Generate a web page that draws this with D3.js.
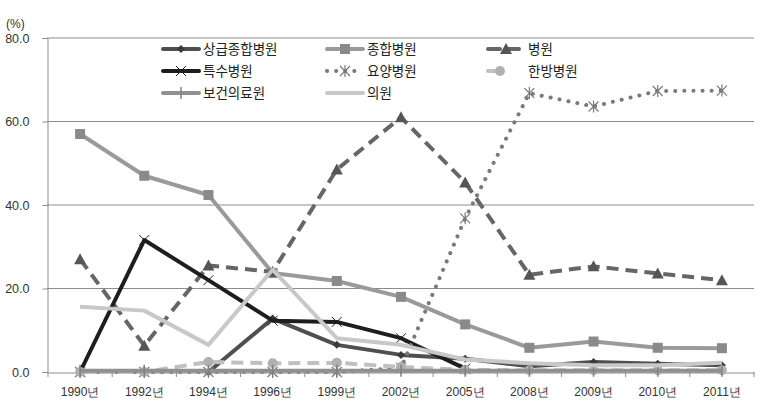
<!DOCTYPE html>
<html><head><meta charset="utf-8">
<script src="https://cdn.jsdelivr.net/npm/d3@7"></script>
<style>body{margin:0;background:#fff;}svg{display:block;font-family:"Noto Sans CJK KR","Noto Sans",sans-serif;}</style>
</head><body><svg id="c" width="768" height="412"></svg>
<script>
const years = ["1990년","1992년","1994년","1996년","1999년","2002년","2005년","2008년","2009년","2010년","2011년"];
const yTicks = [0,20,40,60,80];
const names = ["상급종합병원","종합병원","병원","특수병원","요양병원","한방병원","보건의료원","의원"];
const s상급종합병원 = [null,null,0,12.8,6.5,4.1,3.2,1.4,2.4,2.0,1.6];
const s종합병원 = [57.0,47.0,42.4,23.7,21.8,18.0,11.4,5.8,7.3,5.8,5.7];
const s병원 = [27.0,6.3,25.5,24.0,48.5,61.0,45.4,23.3,25.3,23.6,22.0];
const s특수병원 = [0,31.6,22.0,12.3,12.0,8.1,0.8,null,null,null,null];
const s요양병원 = [0,0,0,0,0,1.0,36.8,66.8,63.6,67.3,67.4];
const s한방병원 = [0,0,2.4,2.1,2.2,1.2,0.5,0.4,0.4,0.4,0.4];
const s보건의료원 = [0.3,0.3,0.3,0.3,0.3,0.3,0.3,0.3,0.3,0.3,0.3];
const s의원 = [15.6,14.7,6.5,24.5,8.1,6.5,3.0,2.1,1.6,1.6,2.2];
const seriesVals = [s상급종합병원,s종합병원,s병원,s특수병원,s요양병원,s한방병원,s보건의료원,s의원];

const styles = [
 {color:"#4f4f4f", dash:null, marker:"diamond", mcolor:"#3a3a3a"},
 {color:"#9a9a9a", dash:null, marker:"square", mcolor:"#8a8a8a"},
 {color:"#666666", dash:"12,7", marker:"triangle", mcolor:"#555555"},
 {color:"#1e1e1e", dash:null, marker:"x", mcolor:"#1e1e1e"},
 {color:"#7a7a7a", dash:"0.1,9", marker:"star", mcolor:"#7a7a7a", cap:"round"},
 {color:"#c0c0c0", dash:"12,7", marker:"circle", mcolor:"#b0b0b0"},
 {color:"#909090", dash:null, marker:"bar", mcolor:"#808080"},
 {color:"#c8c8c8", dash:null, marker:"none", mcolor:"#c8c8c8"}
];

const svg = d3.select("#c");
const x = d3.scaleBand().domain(years).range([48,754]);
const y = d3.scaleLinear().domain([0,80]).range([372,38]);

// gridlines
svg.append("g").selectAll("line").data(yTicks.filter(d=>d>0)).join("line")
 .attr("x1",47).attr("x2",754).attr("y1",d=>y(d)).attr("y2",d=>y(d))
 .attr("stroke","#8c8c8c").attr("stroke-width",1);

// y axis
const ya = svg.append("g").attr("transform","translate(47.5,0)")
 .call(d3.axisLeft(y).tickValues(yTicks).tickFormat(d3.format(".1f")).tickSize(5).tickPadding(13));
ya.selectAll("path,line").attr("stroke","#8c8c8c");
ya.selectAll("text").attr("font-size",12.5).attr("fill","#333").attr("font-family","'Liberation Sans',Arial,sans-serif");
svg.append("text").attr("x",6).attr("y",28).attr("font-size",12).attr("fill","#333").attr("font-family","'Liberation Sans',Arial,sans-serif").text("(%)");

// x axis
const xa = svg.append("g").attr("transform","translate(0,372.5)")
 .call(d3.axisBottom(x).tickSize(0).tickPadding(15));
xa.select(".domain").attr("stroke","#8c8c8c");
xa.selectAll("text").attr("font-size",12).attr("fill","#333");
svg.append("g").selectAll("line").data(d3.range(years.length+1)).join("line")
 .attr("x1",i=>48+i*x.step()).attr("x2",i=>48+i*x.step()).attr("y1",372).attr("y2",377)
 .attr("stroke","#8c8c8c");

function marker(g, type, cx, cy, col){
  if(type==="diamond"){ g.append("path").attr("d",`M${cx},${cy-4}L${cx+4},${cy}L${cx},${cy+4}L${cx-4},${cy}Z`).attr("fill",col);}
  else if(type==="square"){ g.append("rect").attr("x",cx-5).attr("y",cy-5).attr("width",10).attr("height",10).attr("fill",col);}
  else if(type==="triangle"){ g.append("path").attr("d",`M${cx},${cy-6}L${cx+6},${cy+5}L${cx-6},${cy+5}Z`).attr("fill",col);}
  else if(type==="circle"){ g.append("circle").attr("cx",cx).attr("cy",cy).attr("r",5).attr("fill",col);}
  else if(type==="x"){ g.append("path").attr("d",`M${cx-5},${cy-5}L${cx+5},${cy+5}M${cx+5},${cy-5}L${cx-5},${cy+5}`).attr("stroke",col).attr("stroke-width",1);}
  else if(type==="star"){ g.append("path").attr("d",`M${cx-5},${cy-5}L${cx+5},${cy+5}M${cx+5},${cy-5}L${cx-5},${cy+5}M${cx},${cy-6}L${cx},${cy+6}`).attr("stroke",col).attr("stroke-width",1.2);}
  else if(type==="bar"){ g.append("path").attr("d",`M${cx},${cy-6}L${cx},${cy+6}`).attr("stroke",col).attr("stroke-width",1.5);}
}

const line = d3.line().defined(d=>d[1]!==null).x(d=>x(d[0])+x.bandwidth()/2).y(d=>y(d[1]));
seriesVals.forEach((vals,i)=>{
  const st = styles[i];
  const pts = years.map((yr,j)=>[yr,vals[j]]);
  const g = svg.append("g");
  g.append("path").datum(pts).attr("d",line).attr("fill","none").attr("stroke",st.color)
   .attr("stroke-width",4).attr("stroke-dasharray",st.dash).attr("stroke-linecap",st.cap||"butt").attr("stroke-linejoin","round");
  pts.filter(p=>p[1]!==null).forEach(p=>marker(g,st.marker,x(p[0])+x.bandwidth()/2,y(p[1]),st.mcolor));
});

// legend
const lcols = [163,327,488];
const ltext = [203,367,528];
const lrows = [49,71,93];
names.forEach((n,i)=>{
  const c = i%3, r = Math.floor(i/3), st = styles[i];
  const g = svg.append("g");
  const x1 = lcols[c], x2 = (i===5)? x1+12 : x1+36;
  g.append("line").attr("x1",x1).attr("x2",x2).attr("y1",lrows[r]).attr("y2",lrows[r])
   .attr("stroke",st.color).attr("stroke-width",4).attr("stroke-dasharray",st.dash).attr("stroke-linecap",st.cap||"round");
  marker(g,st.marker,(i===5)?x2:(x1+x2)/2,lrows[r],st.mcolor);
  g.append("text").attr("x",ltext[c]).attr("y",lrows[r]+5).attr("font-size",13.5).attr("fill","#222").text(n);
});
</script></body></html>
